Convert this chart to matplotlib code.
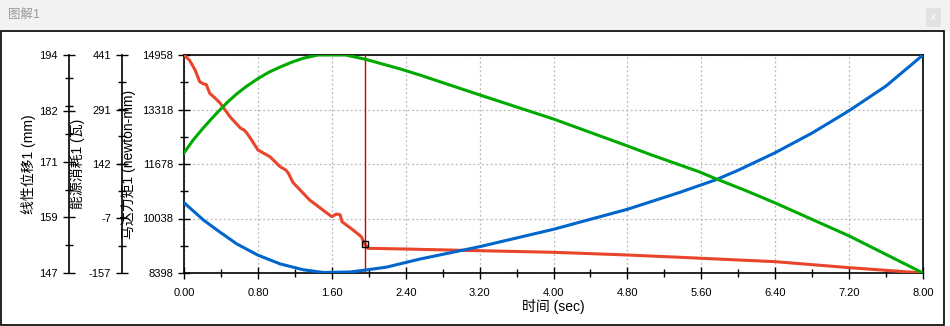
import matplotlib
matplotlib.use("Agg")
import matplotlib.pyplot as plt
from matplotlib.patches import Rectangle
from matplotlib.ticker import AutoMinorLocator

plt.rcParams['font.family'] = ['Liberation Sans', 'Noto Sans CJK SC']

# 马达力矩1 (newton-mm), red
torque_t = [0.00, 0.06, 0.12, 0.17, 0.21, 0.24, 0.28, 0.33, 0.39, 0.50, 0.61, 0.65,
            0.68, 0.72, 0.80, 0.93, 1.04, 1.10, 1.13, 1.18, 1.36, 1.50, 1.60, 1.65,
            1.69, 1.71, 1.83, 1.92, 1.95, 1.99, 2.37, 3.20, 4.00, 4.80, 5.04, 5.37,
            5.60, 6.40, 7.20, 8.00]
torque_v = [14958, 14800, 14507, 14155, 14090, 14070, 13800, 13680, 13514, 13093, 12761, 12700,
            12611, 12450, 12099, 11898, 11597, 11500, 11400, 11121, 10595, 10300, 10093, 10174,
            10150, 9942, 9692, 9490, 9300, 9142, 9121, 9069, 9021, 8940, 8910, 8871,
            8841, 8739, 8559, 8398]

# 线性位移1 (mm), green
disp_t = [0.00, 0.10, 0.21, 0.30, 0.39, 0.48, 0.57, 0.68, 0.80, 0.92, 1.04, 1.16,
          1.29, 1.45, 1.75, 1.96, 2.34, 2.55, 3.20, 4.00, 4.80, 5.04, 5.58, 5.76,
          6.09, 6.40, 7.20, 8.00]
disp_v = [172.9, 175.7, 178.3, 180.3, 182.2, 184.0, 185.6, 187.3, 188.9, 190.3, 191.4, 192.4,
          193.3, 194.0, 194.0, 193.1, 191.0, 189.7, 185.4, 180.2, 174.4, 172.6, 168.8, 167.3,
          164.7, 162.1, 155.0, 147.0]

# 能源消耗1 (瓦), blue
power_t = [0.00, 0.21, 0.39, 0.57, 0.80, 1.04, 1.29, 1.51, 1.80, 1.96, 2.19, 2.37,
           2.55, 3.20, 4.00, 4.80, 5.37, 5.76, 6.00, 6.40, 6.80, 7.20, 7.60, 8.00]
power_v = [35.9, -11.6, -45.0, -77.0, -108.0, -132.0, -148.0, -155.6, -154.2, -149.0, -141.0, -130.0,
           -119.0, -84.8, -37.1, 17.8, 64.4, 99.0, 125.0, 173.0, 227.0, 288.2, 356.0, 441.0]

x_ticks = [0.00, 0.80, 1.60, 2.40, 3.20, 4.00, 4.80, 5.60, 6.40, 7.20, 8.00]
torque_ticks = ['8398', '10038', '11678', '13318', '14958']
disp_ticks = ['147', '159', '171', '182', '194']
power_ticks = ['-157', '-7', '142', '291', '441']

cursor_t = 1.96
cursor_torque = 9271

W, H = 950, 326
fig = plt.figure(figsize=(W / 100, H / 100), dpi=100, facecolor='white')


def fx(px):
    return px / W


def fy(py):
    return 1 - py / H


# window frame (behind the axes)
fig.add_artist(Rectangle((0, fy(31)), 1, 31 / H, transform=fig.transFigure,
                         facecolor='#f2f2f2', edgecolor='none', zorder=-10))
fig.add_artist(Rectangle((fx(1), fy(325)), fx(943), 294 / H, transform=fig.transFigure,
                         facecolor='white', edgecolor='black', lw=1.2, zorder=-10))
fig.add_artist(Rectangle((fx(926), fy(27)), fx(15), 19 / H, transform=fig.transFigure,
                         facecolor='#e2e2e2', edgecolor='none', zorder=-10))
fig.text(fx(933.5), fy(17), 'x', color='white', fontsize=7, ha='center', va='center')
fig.text(fx(8), fy(15), '图解1', color='#999999', fontsize=9, ha='left', va='center')

ax = fig.add_axes([fx(184), fy(273), fx(923) - fx(184), (273 - 55) / H])
ax.patch.set_alpha(0)
ax.set_xlim(0, 8)

ax.plot(torque_t, torque_v, color='#e8452c', lw=2.2, zorder=3)
ax.set_ylim(8398, 14958)
ax.set_yticks([float(v) for v in torque_ticks])
ax.set_yticklabels(torque_ticks)
ax.set_xticks(x_ticks)
ax.set_xticklabels(['%.2f' % v for v in x_ticks])
ax.xaxis.set_minor_locator(AutoMinorLocator(2))
ax.yaxis.set_minor_locator(AutoMinorLocator(2))
ax.grid(True, which='major', color='#b8b8b8', ls=(0, (1.5, 2)), lw=0.9)
ax.tick_params(which='major', direction='inout', length=8, width=1, labelsize=8, colors='black')
ax.tick_params(which='minor', direction='inout', length=6, width=1)
ax.tick_params(axis='x', pad=6.5)
ax.tick_params(axis='y', pad=4)
for s in ax.spines.values():
    s.set_linewidth(1.2)
ax.axvline(cursor_t, color='#cc0000', lw=1, zorder=4)
ax.plot(cursor_t, cursor_torque, marker='s', ms=4, mfc='none', mec='black', mew=1, zorder=5)
ax.set_ylabel('马达力矩1 (newton-mm)', fontsize=10)
ax.yaxis.set_label_coords(-0.065, 0.5)
ax.set_xlabel('时间 (sec)', fontsize=10)
ax.xaxis.set_label_coords(0.5, -0.12)

ax_p = ax.twinx()
ax_p.plot(power_t, power_v, color='#0066cc', lw=2.2)
ax_p.set_ylim(-157, 441)
ax_p.set_yticks([float(v) for v in power_ticks])
ax_p.set_yticklabels(power_ticks)

ax_d = ax.twinx()
ax_d.plot(disp_t, disp_v, color='#00aa00', lw=2.2)
ax_d.set_ylim(147, 194)
ax_d.set_yticks([float(v) for v in disp_ticks])
ax_d.set_yticklabels(disp_ticks)

for a, off, lab, lx in [(ax_p, (122 - 184) / 739, '能源消耗1 (瓦)', -0.134),
                        (ax_d, (69 - 184) / 739, '线性位移1 (mm)', -0.2)]:
    for k in ['right', 'top', 'bottom']:
        a.spines[k].set_visible(False)
    a.spines['left'].set_visible(True)
    a.spines['left'].set_position(('axes', off))
    a.spines['left'].set_linewidth(1.2)
    a.yaxis.tick_left()
    a.yaxis.set_label_position('left')
    a.yaxis.set_minor_locator(AutoMinorLocator(2))
    a.tick_params(which='major', direction='inout', length=8, width=1, labelsize=8, pad=4)
    a.tick_params(which='minor', direction='inout', length=6, width=1)
    a.set_ylabel(lab, fontsize=10)
    a.yaxis.set_label_coords(lx, 0.5)

fig.savefig('out.png', dpi=100)
